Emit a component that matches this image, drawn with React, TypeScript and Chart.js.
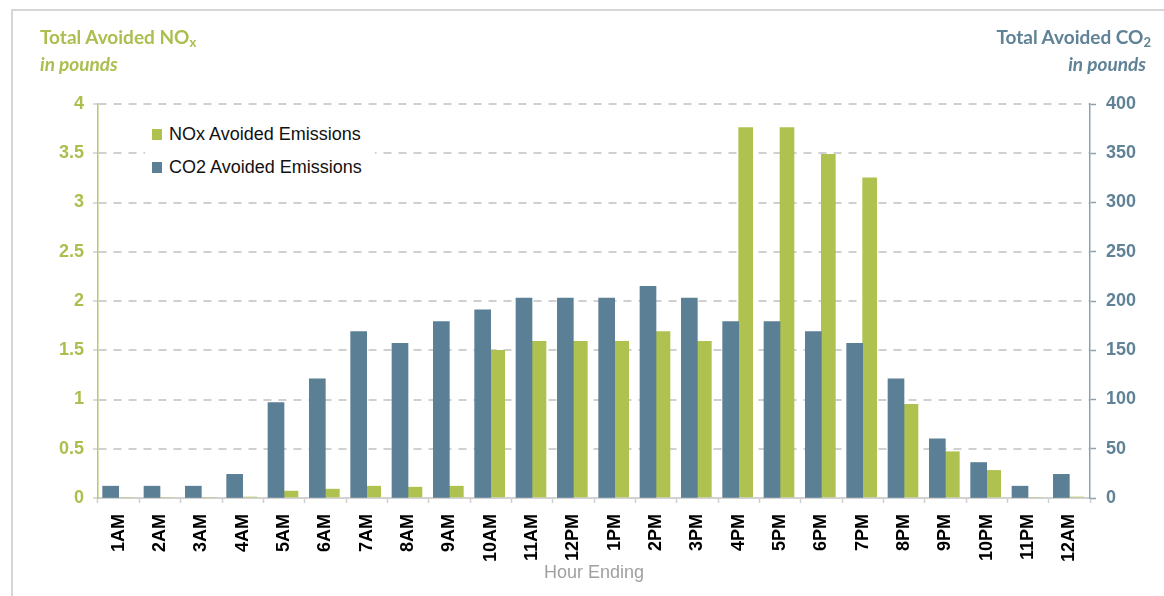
import React, { useEffect, useRef } from "react";
import { Chart, registerables } from "chart.js";

Chart.register(...registerables);

const hours = ["1AM","2AM","3AM","4AM","5AM","6AM","7AM","8AM","9AM","10AM","11AM","12PM","1PM","2PM","3PM","4PM","5PM","6PM","7PM","8PM","9PM","10PM","11PM","12AM"];
const co2Avoided = [12,12,12,24,97,121,169,157,179,191,203,203,203,215,203,179,179,169,157,121,60,36,12,24];
const noxAvoided = [0,0,0,0.01,0.07,0.09,0.12,0.11,0.12,1.5,1.59,1.59,1.59,1.69,1.59,3.76,3.76,3.49,3.25,0.95,0.47,0.28,0,0.01];

const GREEN = "#afc24f";
const GREEN_TEXT = "#aabf4e";
const BLUE = "#5b7f94";
const BLUE_TEXT = "#5f8296";

export default function App() {
  const ref = useRef<HTMLCanvasElement | null>(null);

  useEffect(() => {
    if (!ref.current) return;
    const chart = new Chart(ref.current, {
      type: "bar",
      data: {
        labels: hours,
        datasets: [
          { label: "CO2 Avoided Emissions", data: co2Avoided, backgroundColor: BLUE, yAxisID: "y2", barThickness: 16 },
          { label: "NOx Avoided Emissions", data: noxAvoided, backgroundColor: GREEN, yAxisID: "y", barThickness: 14 },
        ],
      },
      options: {
        responsive: false,
        animation: false,
        devicePixelRatio: 1,
        layout: { padding: { top: 104, left: 0, right: 0, bottom: 0 } },
        plugins: { legend: { display: false }, tooltip: { enabled: false } },
        scales: {
          x: {
            afterFit: (s: any) => { s.height = 98; },
            grid: { display: true, drawOnChartArea: false, drawTicks: true, tickLength: 5, tickColor: "#cfcfcf", tickWidth: 1.5, offset: true },
            border: { display: true, color: "#d2d2d2", width: 2 },
            ticks: { autoSkip: false, maxRotation: 90, minRotation: 90, padding: 11, color: "#000", font: { family: "Liberation Sans, Arial", size: 18, weight: "bold" } },
            title: { display: true, text: "Hour Ending", color: "#a0a0a0", font: { family: "Liberation Sans, Arial", size: 18 }, padding: { top: 0, bottom: 12 } },
          },
          y: {
            position: "left",
            min: 0,
            max: 4,
            afterFit: (s: any) => { s.width = 98; },
            ticks: { stepSize: 0.5, padding: 9, color: GREEN_TEXT, font: { family: "Liberation Sans, Arial", size: 18, weight: "bold" }, callback: (v: any) => String(Number(v)) },
            grid: { color: "#d0d0d0", lineWidth: 2, tickLength: 5, tickColor: "#cfcfcf", tickWidth: 1.5, tickBorderDash: [] },
            border: { color: "#b8ca62", width: 1.5, dash: [8, 7] },
          },
          y2: {
            position: "right",
            min: 0,
            max: 400,
            afterFit: (s: any) => { s.width = 74; },
            ticks: { stepSize: 50, padding: 10, color: BLUE_TEXT, font: { family: "Liberation Sans, Arial", size: 18, weight: "bold" } },
            grid: { drawOnChartArea: false, drawTicks: true, tickLength: 6, tickColor: "#8aa3b3", tickWidth: 1.5 },
            border: { color: "#8aa3b3", width: 1.5 },
          },
        },
      },
    });
    return () => chart.destroy();
  }, []);

  const titleFont = "Lato, 'Open Sans', sans-serif";

  return (
    <div style={{ position: "fixed", left: 0, top: 0, width: 1164, height: 596, overflow: "hidden", background: "#fff" }}>
      <div style={{ position: "absolute", left: 11, top: 9, width: 1200, height: 700, borderTop: "2px solid #d6d6d6", borderLeft: "2px solid #d6d6d6" }} />
      <canvas ref={ref} width={1164} height={596} style={{ position: "absolute", left: 0, top: 0 }} />
      <div style={{ position: "absolute", left: 40, top: 26, fontFamily: titleFont, fontWeight: 700, fontSize: 19, color: GREEN_TEXT, lineHeight: "22px", whiteSpace: "nowrap" }}>
        Total Avoided NO<span style={{ fontSize: 13, position: "relative", top: 3 }}>x</span>
      </div>
      <div style={{ position: "absolute", left: 40, top: 53, fontFamily: titleFont, fontWeight: 700, fontStyle: "italic", fontSize: 19, color: GREEN_TEXT, lineHeight: "22px", whiteSpace: "nowrap" }}>
        in pounds
      </div>
      <div style={{ position: "absolute", right: 1164 - 1151, top: 26, fontFamily: titleFont, fontWeight: 700, fontSize: 19, color: BLUE_TEXT, lineHeight: "22px", whiteSpace: "nowrap", textAlign: "right" }}>
        Total Avoided CO<span style={{ fontSize: 13, position: "relative", top: 3 }}>2</span>
      </div>
      <div style={{ position: "absolute", right: 1164 - 1146, top: 53, fontFamily: titleFont, fontWeight: 700, fontStyle: "italic", fontSize: 19, color: BLUE_TEXT, lineHeight: "22px", whiteSpace: "nowrap", textAlign: "right" }}>
        in pounds
      </div>
      <div style={{ position: "absolute", left: 145, top: 120, width: 230, height: 62, background: "#fff", fontFamily: "'Liberation Sans', Arial, sans-serif", fontSize: 18, color: "#111" }}>
        <div style={{ position: "absolute", left: 7, top: 9, width: 10, height: 11, background: GREEN }} />
        <div style={{ position: "absolute", left: 24, top: 3, lineHeight: "22px", whiteSpace: "nowrap" }}>NOx Avoided Emissions</div>
        <div style={{ position: "absolute", left: 7, top: 42, width: 10, height: 11, background: BLUE }} />
        <div style={{ position: "absolute", left: 24, top: 36, lineHeight: "22px", whiteSpace: "nowrap" }}>CO2 Avoided Emissions</div>
      </div>
    </div>
  );
}
